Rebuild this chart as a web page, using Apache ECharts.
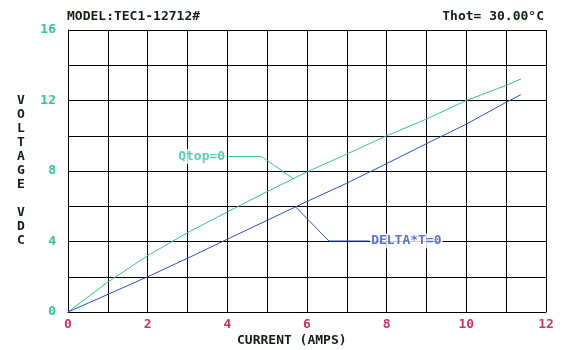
<!DOCTYPE html>
<html><head><meta charset="utf-8">
<script src="https://cdn.jsdelivr.net/npm/echarts@6/dist/echarts.min.js"></script>
<style>html,body{margin:0;padding:0;background:#fff}#c{width:572px;height:350px}</style>
</head><body><div id="c"></div>
<script>
const current = [0, 1, 2, 3, 4, 5, 6, 7, 8, 9, 10, 11, 11.37];
const qtopZero = [0, 1.7, 3.2, 4.5, 5.68, 6.83, 7.95, 8.96, 10.0, 10.95, 12.0, 12.86, 13.22];
const deltaTZero = [0, 1.0, 2.0, 3.05, 4.13, 5.2, 6.27, 7.31, 8.42, 9.55, 10.66, 11.9, 12.33];
const xTicks = [0, 2, 4, 6, 8, 10, 12];
const yTicks = [0, 4, 8, 12, 16];
const qtopLeader = [[5.67, 7.54], [4.86, 8.82], [4.02, 8.82]];
const deltaLeader = [[5.72, 5.95], [6.55, 4.03], [7.56, 4.03]];

const FONT = 'DejaVu Sans Mono';
const TEAL = '#30c49a';
const BLUE = '#3050cc';
const RED = '#cc3360';
const DARK = '#142014';

const chart = echarts.init(document.getElementById('c'), null, {renderer: 'canvas'});
const zip = (xs, ys) => xs.map((x, i) => [x, ys[i]]);

chart.setOption({
  animation: false,
  backgroundColor: '#fff',
  title: [
    {text: 'MODEL:TEC1-12712#', left: 62, top: 5, textStyle: {fontFamily: FONT, fontSize: 13, fontWeight: 'bold', color: DARK}},
    {text: 'Thot= 30.00°C', right: 23, top: 5, textStyle: {fontFamily: FONT, fontSize: 13, fontWeight: 'bold', color: DARK}},
    {text: 'CURRENT (AMPS)', left: 232, top: 329, textStyle: {fontFamily: FONT, fontSize: 13, fontWeight: 'bold', color: DARK}}
  ],
  grid: {left: 68, right: 26, top: 30, bottom: 38},
  xAxis: {
    type: 'value', min: 0, max: 12, interval: 1,
    axisLine: {show: true, lineStyle: {color: '#000', width: 1}},
    axisTick: {show: false},
    splitLine: {show: true, lineStyle: {color: '#000', width: 1}},
    axisLabel: {
      margin: 6, color: RED, fontFamily: FONT, fontSize: 13, fontWeight: 'bold',
      formatter: v => xTicks.includes(v) ? String(v) : ''
    }
  },
  yAxis: {
    type: 'value', min: 0, max: 16, interval: 2,
    name: 'V\nO\nL\nT\nA\nG\nE\n\nV\nD\nC',
    nameLocation: 'middle', nameRotate: 0, nameGap: 47,
    nameTextStyle: {fontFamily: FONT, fontSize: 13, fontWeight: 'bold', color: DARK, lineHeight: 14, align: 'center', verticalAlign: 'middle'},
    axisLine: {show: true, lineStyle: {color: '#000', width: 1}},
    axisTick: {show: false},
    splitLine: {show: true, lineStyle: {color: '#000', width: 1}},
    axisLabel: {
      margin: 12, color: TEAL, fontFamily: FONT, fontSize: 13, fontWeight: 'bold',
      formatter: v => yTicks.includes(v) ? String(v) : ''
    }
  },
  series: [
    {type: 'line', data: zip(current, qtopZero), showSymbol: false, symbol: 'none', lineStyle: {color: TEAL, width: 1}, z: 3},
    {type: 'line', data: zip(current, deltaTZero), showSymbol: false, symbol: 'none', lineStyle: {color: BLUE, width: 1}, z: 3},
    {type: 'line', data: qtopLeader, symbol: 'none', lineStyle: {color: TEAL, width: 1}, z: 3},
    {type: 'line', data: deltaLeader, symbol: 'none', lineStyle: {color: BLUE, width: 1}, z: 3},
    {type: 'scatter', symbolSize: 0, data: [qtopLeader[2]], z: 5,
     label: {show: true, position: 'left', distance: 2, formatter: 'Qtop=0', color: TEAL, fontFamily: FONT, fontSize: 13, fontWeight: 'bold', backgroundColor: '#fff', padding: [1, 1]}},
    {type: 'scatter', symbolSize: 0, data: [deltaLeader[2]], z: 5,
     label: {show: true, position: 'right', distance: 1, formatter: 'DELTA*T=0', color: BLUE, fontFamily: FONT, fontSize: 13, fontWeight: 'bold', backgroundColor: '#fff', padding: [1, 1]}}
  ]
});
</script></body></html>
